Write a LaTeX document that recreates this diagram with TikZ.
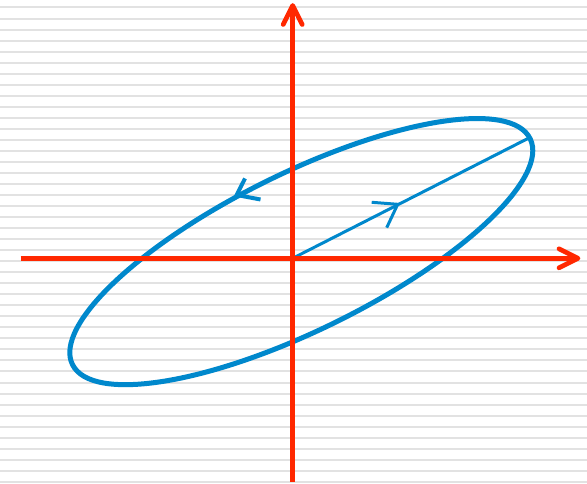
\documentclass[tikz,border=0pt]{standalone}
\usetikzlibrary{calc}
\definecolor{axisred}{RGB}{255,40,0}
\definecolor{curveblue}{RGB}{0,136,204}
\definecolor{stripegray}{RGB}{226,226,226}
\begin{document}
\begin{tikzpicture}[x=1pt,y=1pt,
  axisline/.style={draw=axisred,line width=4.7pt},
  axistip/.style={draw=axisred,line width=4.7pt,line cap=round,line join=round},
  curveline/.style={draw=curveblue,line width=5pt},
  curvetip/.style={draw=curveblue,line width=4pt},
  radiusline/.style={draw=curveblue,line width=3pt},
  radiustip/.style={draw=curveblue,line width=3pt}]
\fill[white] (0,0) rectangle (587,484);
\useasboundingbox (0,0) rectangle (587,484);
\foreach \k in {0,...,43}
  \fill[stripegray] (0,{475.5-11.03*\k}) rectangle (587,{477.5-11.03*\k});
% coordinates
\coordinate (O) at (292.7,225.7);
\coordinate (L) at (20.7,225.7);
\coordinate (R) at (578,225.7);
\coordinate (B) at (292.7,2);
\coordinate (T) at (292.7,478.5);
\coordinate (C) at (301.3,232.4);
\coordinate (P) at (528.3,345.7);
% ellipse
\draw[curveline, rotate around={26.26:(C)}] (C) ellipse [x radius=255.2, y radius=78.5];
% arrow on ellipse
\coordinate (E1) at (245,305.5);
\coordinate (Etip) at (236.7,289);
\coordinate (E2) at (260.5,284.5);
\draw[curvetip] (E1) -- (Etip) -- (E2);
% radius line with arrow
\draw[radiusline] (O) -- (P);
\coordinate (M1) at (371.7,281.7);
\coordinate (Mtip) at (397.7,279.7);
\coordinate (M2) at (386.7,256.3);
\draw[radiustip] (M1) -- (Mtip) -- (M2);
% axes
\draw[axisline] (L) -- (R);
\draw[axistip] ($(R)+(-19,9.5)$) -- (R) -- ($(R)+(-19,-9.5)$);
\draw[axisline] (B) -- (T);
\draw[axistip] ($(T)+(-9.5,-19)$) -- (T) -- ($(T)+(9.5,-19)$);
\end{tikzpicture}
\end{document}
